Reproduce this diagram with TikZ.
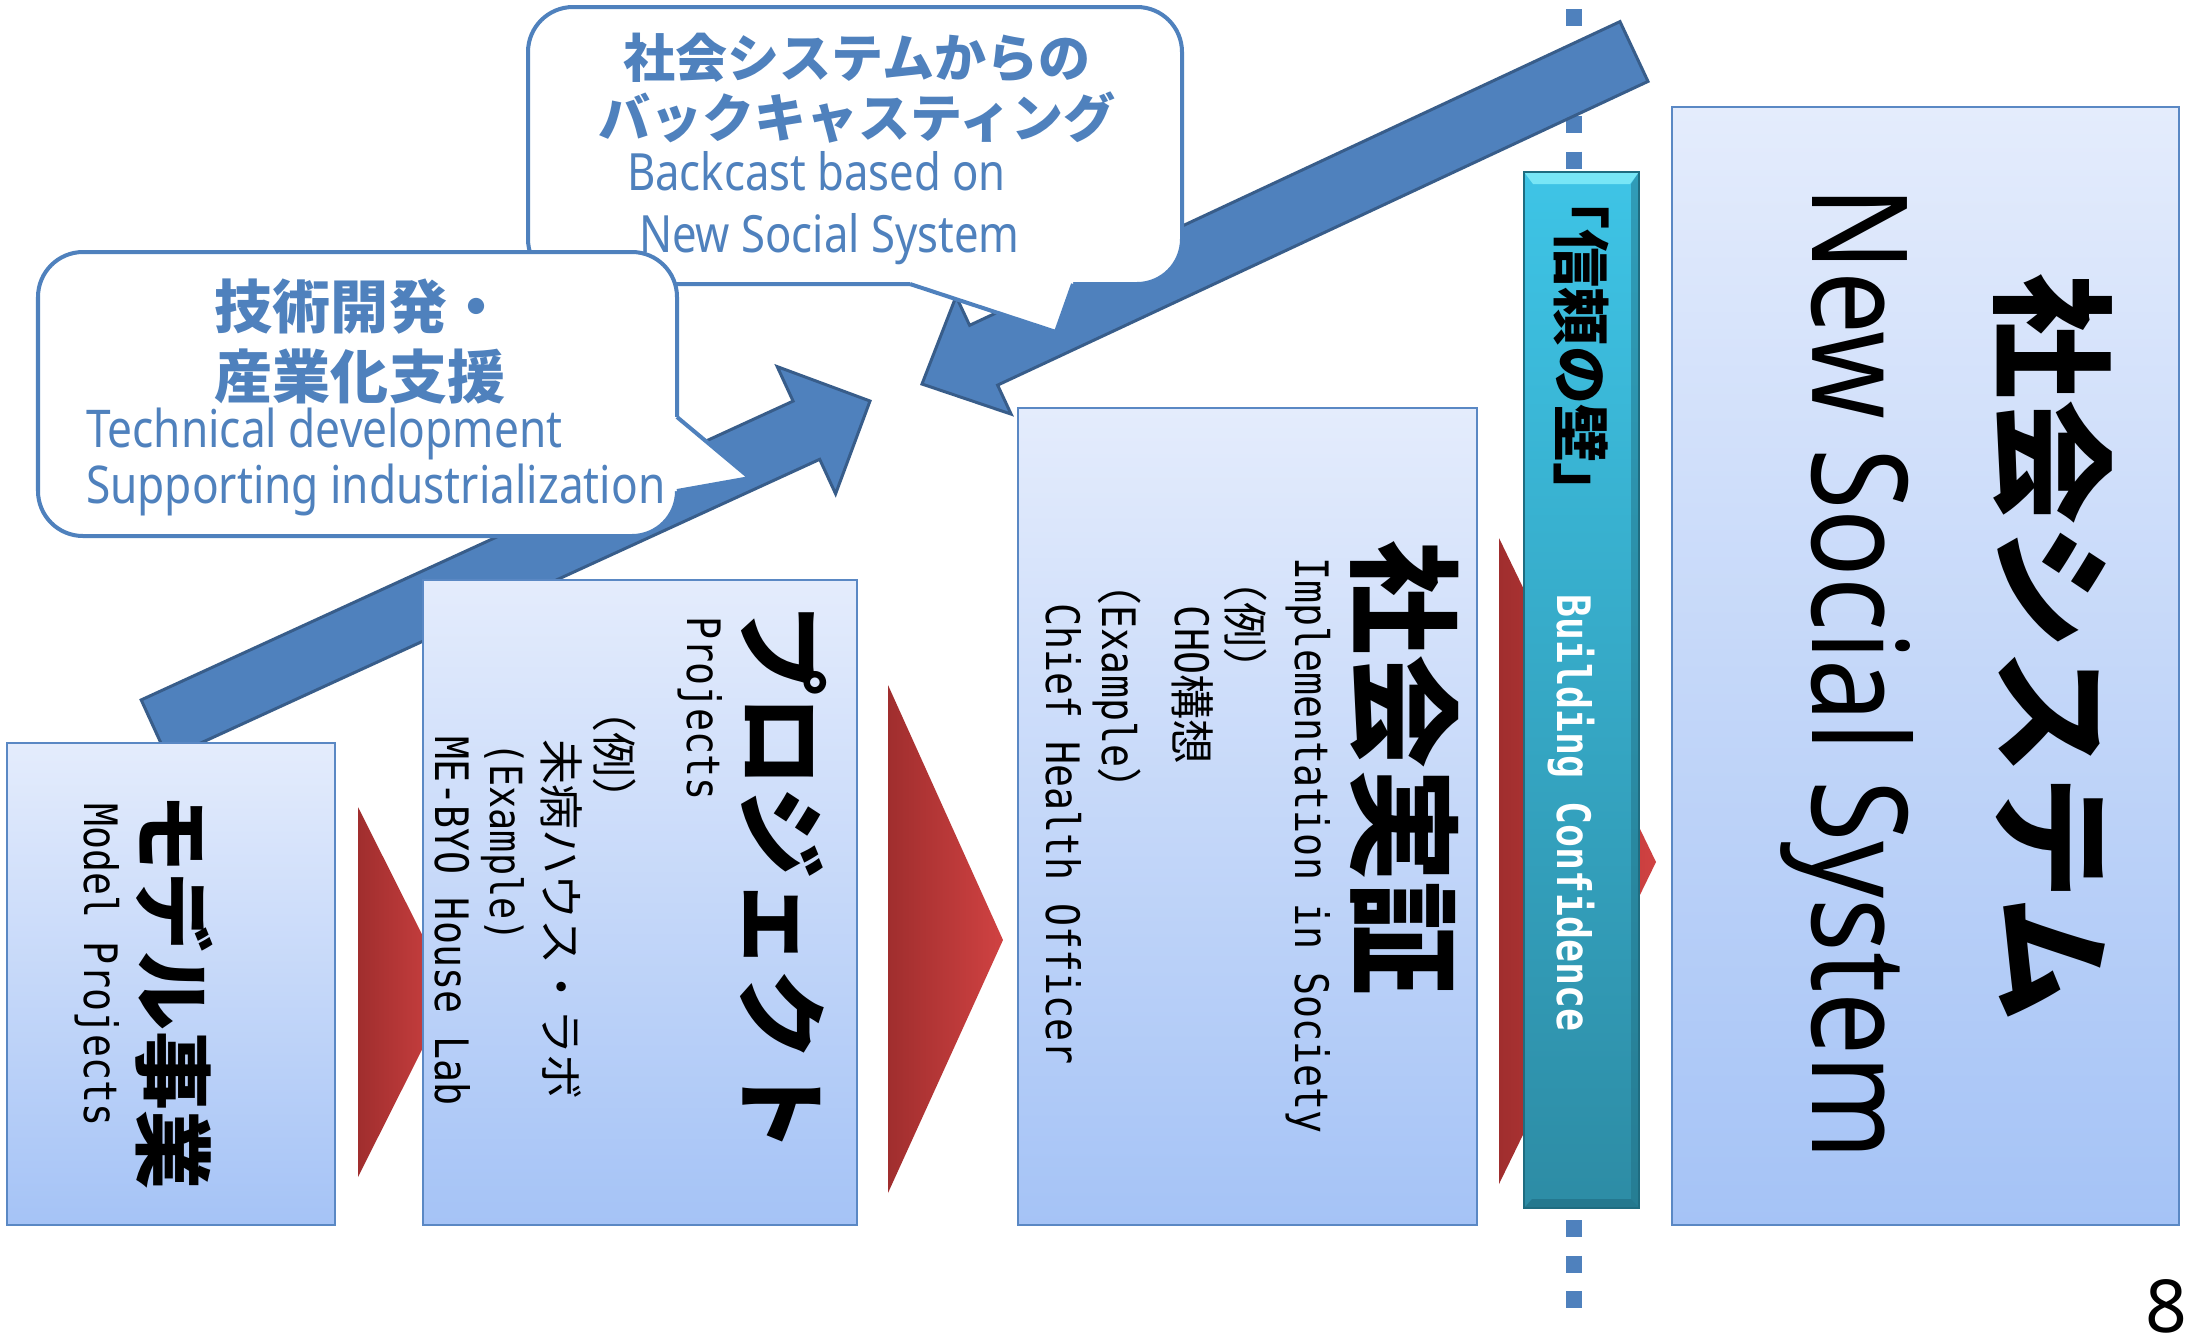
\documentclass[tikz,border=0pt]{standalone}
\usepackage{fontspec}
\setmainfont{Noto Sans}
\newfontfamily\cjk{Noto Sans CJK JP}
\newfontfamily\mono[FakeStretch=0.83]{DejaVu Sans Mono}
\newfontfamily\latc[FakeStretch=0.85]{Noto Sans}
\newfontfamily\latd[FakeStretch=0.84]{Noto Sans}
\newcommand\setfs[1]{\fontsize{#1}{#1}\selectfont}
\definecolor{blueone}{HTML}{4F81BD}
\definecolor{arrowedge}{HTML}{385D8A}
\definecolor{boxtop}{HTML}{E4ECFC}
\definecolor{boxbot}{HTML}{A5C3F6}
\definecolor{boxedge}{HTML}{5A88C4}
\definecolor{reddark}{HTML}{A02E2E}
\definecolor{redlight}{HTML}{D04242}
\definecolor{tealtop}{HTML}{3EC4E6}
\definecolor{tealbot}{HTML}{2D8CA5}
\definecolor{tealhi}{HTML}{78E6F6}
\definecolor{tealdark}{HTML}{1F6C80}
\tikzset{
  rtext/.style={rotate=-90, anchor=base, inner sep=0pt, outer sep=0pt},
  ctext/.style={anchor=base, inner sep=0pt, outer sep=0pt, text=blueone},
  ltext/.style={anchor=base west, inner sep=0pt, outer sep=0pt, text=blueone},
  stagebox/.style={draw=boxedge, line width=0.6pt, top color=boxtop, bottom color=boxbot},
  bigarrow/.style={fill=blueone, draw=arrowedge, line width=0.85pt, line join=miter},
  redarrow/.style={left color=reddark, right color=redlight},
  calloutbox/.style={fill=white, draw=blueone, line width=1.14pt, rounded corners=0.45cm},
  calloutedge/.style={draw=blueone, line width=1.14pt, line join=miter}
}
\begin{document}
\begin{tikzpicture}[x=0.01cm, y=-0.01cm]
\useasboundingbox (0,0) rectangle (2190,1335);
\fill[white] (0,0) rectangle (2190,1335);

% dashed divider
\coordinate (dtop) at (1574,9);
\coordinate (dbot) at (1574,1325);
\draw[blueone, line width=4.5pt, dash pattern=on 4.84pt off 5.29pt] (dtop) -- (dbot);

% red chevrons
\shade[redarrow] (358,807) -- (451,992) -- (358,1177) -- cycle;
\shade[redarrow] (888,685) -- (1003,940) -- (888,1193) -- cycle;
\shade[redarrow] (1499,538) -- (1656,862) -- (1499,1184) -- cycle;

% upward arrow (technical development)
\filldraw[bigarrow] (141.2,699.9) -- (793.1,401.1) -- (777.2,366.6) -- (870,401)
  -- (835.6,493.8) -- (819.7,459.3) -- (167.8,758.1) -- cycle;

% stage boxes
\path[stagebox] (7,743) rectangle (335,1225);
\path[stagebox] (423,580) rectangle (857,1225);
\path[stagebox] (1018,408) rectangle (1477,1225);
\path[stagebox] (1672,107) rectangle (2179,1225);

% teal wall
\shade[top color=tealtop, bottom color=tealbot] (1524,172) rectangle (1639,1208);
\fill[tealhi] (1524,172) -- (1639,172) -- (1630,184) -- (1533,184) -- cycle;
\fill[tealdark, opacity=0.45] (1639,172) -- (1639,1208) -- (1631,1199) -- (1631,184) -- cycle;
\fill[tealdark, opacity=0.6] (1524,1208) -- (1639,1208) -- (1631,1199) -- (1532,1199) -- cycle;
\draw[tealdark, line width=0.6pt] (1524,172) rectangle (1639,1208);

% backcast arrow
\filldraw[bigarrow] (1620,21.6) -- (969.6,325.3) -- (956.1,296.3) -- (922,384)
  -- (1011.1,414.1) -- (997.6,385.1) -- (1648,81.4) -- cycle;

% callout 2
\path[calloutbox] (528,7) rectangle (1182,284);
\fill[white] (910,278) -- (910,284) -- (1056,332) -- (1073,284) -- (1073,278) -- cycle;
\draw[calloutedge] (910,284) -- (1056,332) -- (1073,284);
\node[ctext] (k1) at (857,77) {\cjk\bfseries\setfs{14.8pt}社会システムからの};
\node[ctext] (k2) at (857,137) {\cjk\bfseries\setfs{14.8pt}バックキャスティング};
\node[ltext] (k3) at (627,190) {\latc\setfs{14.6pt}Backcast based on};
\node[ltext] (k4) at (639,252) {\latc\setfs{14.6pt}New Social System};

% callout 1
\path[calloutbox] (38,252) rectangle (677,536);
\fill[white] (671,417) -- (677,417) -- (750,478) -- (677,491) -- (671,491) -- cycle;
\draw[calloutedge] (677,417) -- (750,478) -- (677,491);
\node[ctext] (l1) at (360,328) {\cjk\bfseries\setfs{16.5pt}技術開発・};
\node[ctext] (l2) at (360,398) {\cjk\bfseries\setfs{16.5pt}産業化支援};
\node[ltext] (l3) at (86,447) {\latc\setfs{14.8pt}Technical development};
\node[ltext] (l4) at (86,503) {\latc\setfs{14.8pt}Supporting industrialization};

% box A texts
\node[rtext] (a1) at (143.5,991.5) {\cjk\bfseries\setfs{22.5pt}モデル事業};
\node[rtext] (a2) at (84,965) {\mono\setfs{13.1pt}Model Projects};

% box B texts
\node[rtext] (b1) at (747,878.5) {\cjk\bfseries\setfs{26pt}プロジェクト};
\node[rtext] (b2) at (687,708.5) {\mono\setfs{13.1pt}Projects};
\node[rtext] (b3) at (597,755) {\cjk\setfs{12.8pt}（例）};
\node[rtext] (b4) at (544,919.5) {\cjk\setfs{12.8pt}未病ハウス・ラボ};
\node[rtext] (b5) at (490,842) {\mono\setfs{12.6pt}(Example)};
\node[rtext] (b6) at (435,921) {\mono\setfs{13.1pt}ME-BYO House Lab};

% box C texts
\node[rtext] (c1) at (1361,768) {\cjk\bfseries\setfs{32.4pt}社会実証};
\node[rtext] (c2) at (1295,845.5) {\mono\setfs{13.1pt}Implementation in Society};
\node[rtext] (c3) at (1228,625) {\cjk\setfs{12.8pt}（例）};
\node[rtext] (c4) at (1175,685) {\mono\setfs{13.1pt}CHO{\cjk\setfs{12.8pt}構想}};
\node[rtext] (c5) at (1102,686.5) {{\cjk\setfs{12.8pt}（}\mono\setfs{13.1pt}Example{\cjk\setfs{12.8pt}）}};
\node[rtext] (c6) at (1046,834) {\mono\setfs{13.1pt}Chief Health Officer};

% box D texts
\node[rtext] (d1) at (2005.5,647.5) {\cjk\bfseries\setfs{35.6pt}社会システム};
\node[rtext] (d2) at (1812,673) {\latd\setfs{37.8pt}New Social System};

% wall texts
\node[rtext] (t1) at (1559,346) {\cjk\bfseries\setfs{16.5pt}「信頼の壁」};
\node[rtext, text=white] (t2) at (1557,813) {\mono\bfseries\setfs{13.1pt}Building Confidence};

% page number
\node[anchor=base east, inner sep=0pt] (pg) at (2188,1332) {\setfs{20.8pt}8};
\end{tikzpicture}
\end{document}
